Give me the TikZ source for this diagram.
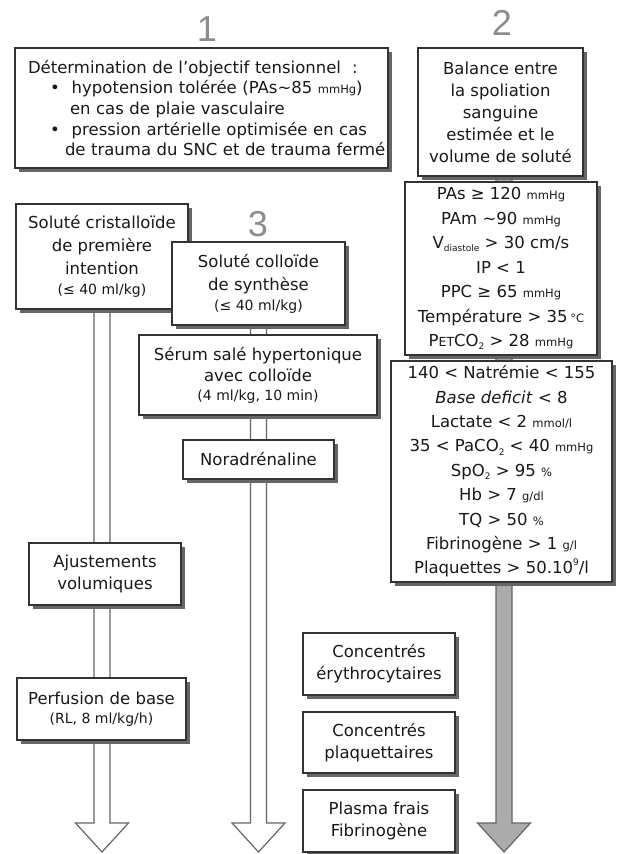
\documentclass[tikz,border=0pt]{standalone}
\usepackage{fontspec}
\setmainfont{DejaVu Sans}
\newfontfamily\digitfont{Liberation Sans}
\usetikzlibrary{shadows,calc}

% text size helpers
\newcommand\unitsz[1]{{\fontsize{11.5}{12}\selectfont #1}}
\newcommand\parensz[1]{{\fontsize{14}{16}\selectfont #1}}
\newcommand\lowtxt[1]{\raisebox{-0.35ex}{\fontsize{9}{9}\selectfont #1}}
\newcommand\hightxt[1]{\raisebox{0.9ex}{\fontsize{9}{9}\selectfont #1}}

% broad block arrow from a box down to a tip coordinate
\newcommand\fatarrow[3]{%
  \path[#1] let \p1=(#2), \p2=(#3) in
    (\x2-8pt,\y1+3pt) -- (\x2-8pt,\y2+29pt) -- (\x2-26.5pt,\y2+29pt) -- (\x2,\y2)
    -- (\x2+26.5pt,\y2+29pt) -- (\x2+8pt,\y2+29pt) -- (\x2+8pt,\y1+3pt) -- cycle;}

\pgfdeclarelayer{bg}
\pgfsetlayers{bg,main}

\tikzset{
  box/.style={draw=black!80, line width=1.1pt, fill=white, text=black!90,
    align=center, inner sep=0pt,
    drop shadow={shadow xshift=4pt, shadow yshift=-4pt, fill=black!60, opacity=1}},
  stepnum/.style={text=black!45, font=\digitfont\fontsize{36}{36}\selectfont, inner sep=0pt},
  hollow/.style={fill=white, draw=black!60, line width=1.2pt, line join=miter},
  solidarrow/.style={fill=black!33, draw=black!60, line width=1.2pt, line join=miter},
}

\begin{document}
\begin{tikzpicture}[x=1pt, y=-1pt, font=\fontsize{16.5}{22}\selectfont]

% step numbers
\node[stepnum] (n1) at (207,29) {1};
\node[stepnum] (n2) at (502,23) {2};
\node[stepnum] (n3) at (258,224) {3};

% step 1: target pressure
\node[box, minimum width=373pt, minimum height=120pt, text width=347pt, align=left,
      font=\fontsize{16.5}{20.7}\selectfont] (goal) at (201.5,108) {%
  \mbox{Détermination de l’objectif tensionnel~~:}\\
  \mbox{\hspace*{22pt}•\hspace{12pt}hypotension tolérée (PAs\textasciitilde 85 \unitsz{mmHg})}\\
  \mbox{\hspace*{42pt}en cas de plaie vasculaire}\\
  \mbox{\hspace*{22pt}•\hspace{12pt}pression artérielle optimisée en cas}\\
  \mbox{\hspace*{37pt}de trauma du SNC et de trauma fermé}};

% step 2: balance and targets
\node[box, minimum width=165pt, minimum height=128pt] (bal) at (500.5,112)
  {Balance entre\\la spoliation\\sanguine\\estimée et le\\volume de soluté};

\node[box, minimum width=192pt, minimum height=173pt,
      font=\fontsize{16.5}{24.5}\selectfont] (hemo) at (501,268.5) {%
  PAs ≥ 120 \unitsz{mmHg}\\
  PAm \textasciitilde 90 \unitsz{mmHg}\\
  V\lowtxt{diastole} > 30 cm/s\\
  IP < 1\\
  PPC ≥ 65 \unitsz{mmHg}\\
  Température > 35\,\unitsz{°C}\\
  P{\fontsize{12.5}{12}\selectfont ET}CO\lowtxt{2} > 28 \unitsz{mmHg}};

\node[box, minimum width=221pt, minimum height=221pt,
      font=\fontsize{16.5}{24.4}\selectfont] (bio) at (501.5,471.5) {%
  140 < Natrémie < 155\\
  \textit{Base deficit} < 8\\
  Lactate < 2 \unitsz{mmol/l}\\
  35 < PaCO\lowtxt{2} < 40 \unitsz{mmHg}\\
  SpO\lowtxt{2} > 95 \unitsz{\%}\\
  Hb > 7 \unitsz{g/dl}\\
  TQ > 50 \unitsz{\%}\\
  Fibrinogène > 1 \unitsz{g/l}\\
  Plaquettes > 50.10\hightxt{9}/l};

% left column: crystalloids
\node[box, minimum width=172pt, minimum height=105pt,
      font=\fontsize{16.5}{23}\selectfont] (cristal) at (102,256.5)
  {Soluté cristalloïde\\de première\\intention\\[-3pt]\parensz{(≤ 40 ml/kg)}};

% step 3: colloids and vasopressor
\node[box, minimum width=173pt, minimum height=83pt,
      font=\fontsize{16.5}{23}\selectfont] (colloide) at (258.5,283.5)
  {Soluté colloïde\\de synthèse\\[-3pt]\parensz{(≤ 40 ml/kg)}};

\node[box, minimum width=238pt, minimum height=80pt,
      font=\fontsize{16.5}{21}\selectfont] (serum) at (258,375)
  {Sérum salé hypertonique\\avec colloïde\\[-2pt]\parensz{(4 ml/kg, 10 min)}};

\node[box, minimum width=151pt, minimum height=39pt] (nora) at (258.5,459.5)
  {Noradrénaline};

\node[box, minimum width=152pt, minimum height=62pt] (ajust) at (105,574)
  {Ajustements\\volumiques};

\node[box, minimum width=169pt, minimum height=62pt,
      font=\fontsize{16.5}{21}\selectfont] (perf) at (101.5,709)
  {Perfusion de base\\[-2pt]\parensz{(RL, 8 ml/kg/h)}};

% blood products
\node[box, minimum width=152pt, minimum height=62pt] (ce) at (379,664)
  {Concentrés\\érythrocytaires};
\node[box, minimum width=152pt, minimum height=61pt] (cp) at (379,742.5)
  {Concentrés\\plaquettaires};
\node[box, minimum width=152pt, minimum height=62pt] (pf) at (379,821)
  {Plasma frais\\Fibrinogène};

% arrow tips
\coordinate (tipL) at (102,852);
\coordinate (tipM) at (258.5,852);
\coordinate (tipR) at (504,852);

\begin{pgfonlayer}{bg}
  \fill[white] (0,0) rectangle (617,854);
  \fatarrow{hollow}{cristal.south}{tipL}
  \fatarrow{hollow}{colloide.south}{tipM}
  \fatarrow{solidarrow}{bal.south}{tipR}
\end{pgfonlayer}

\useasboundingbox (0,0) rectangle (617,854);
\end{tikzpicture}
\end{document}
